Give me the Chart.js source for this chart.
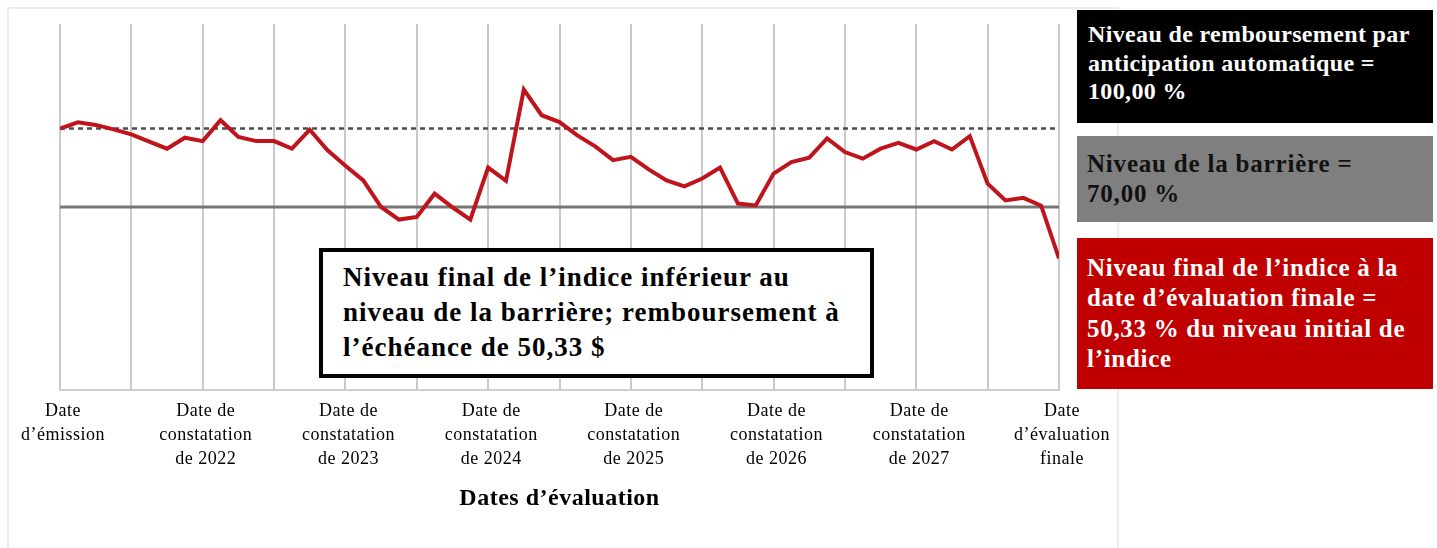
<!DOCTYPE html>
<html>
<head>
<meta charset="utf-8">
<script src="https://cdn.jsdelivr.net/npm/chart.js@4"></script>
<style>
  html, body { margin:0; padding:0; background:#fff; }
  #wrap { position:relative; width:1437px; height:548px; overflow:hidden; font-family:"Liberation Serif", serif; }
  #frame { position:absolute; left:7px; top:7px; width:1112px; height:600px; border:2px solid #ededed; box-sizing:border-box; }
  canvas { position:absolute; left:0; top:0; }
  .box { position:absolute; left:1077px; width:356px; box-sizing:border-box; font-weight:bold; white-space:nowrap; }
  #b1 { top:10px; height:113px; background:#000; color:#fff; padding:10px 0 0 11px; font-size:24px; letter-spacing:0.35px; line-height:28.5px; }
  #b2 { top:136px; height:86px; background:#7f7f7f; color:#111; padding:13px 0 0 10px; font-size:25px; letter-spacing:0.8px; line-height:30px; }
  #b3 { top:238px; height:151px; background:#c00000; color:#fff; padding:15px 0 0 10px; font-size:25px; letter-spacing:0.7px; line-height:30.3px; }
  #ann { position:absolute; left:319px; top:248px; width:555px; height:130px; box-sizing:border-box; border:4px solid #000; background:#fff; font-weight:bold; font-size:27px; letter-spacing:1px; line-height:35px; padding:8px 0 0 20px; color:#000; white-space:nowrap; }
</style>
</head>
<body>
<div id="wrap">
  <div id="frame"></div>
  <canvas id="c" width="1437" height="548"></canvas>
  <div class="box" id="b1">Niveau de remboursement par<br>anticipation automatique =<br>100,00 %</div>
  <div class="box" id="b2">Niveau de la barrière =<br>70,00 %</div>
  <div class="box" id="b3">Niveau final de l’indice à la<br>date d’évaluation finale =<br>50,33 % du niveau initial de<br>l’indice</div>
  <div id="ann">Niveau final de l’indice inférieur au<br>niveau de la barrière; remboursement à<br>l’échéance de 50,33 $</div>
</div>
<script>
const tickLabels = [
  ["Date", "d’émission"],
  ["Date de", "constatation", "de 2022"],
  ["Date de", "constatation", "de 2023"],
  ["Date de", "constatation", "de 2024"],
  ["Date de", "constatation", "de 2025"],
  ["Date de", "constatation", "de 2026"],
  ["Date de", "constatation", "de 2027"],
  ["Date", "d’évaluation", "finale"]
];
const indexLevel = [
  100, 102.4, 101.4, 99.7, 97.8, 95.0, 92.3, 96.5, 95.2, 103.2,
  96.8, 95.2, 95.2, 92.3, 99.6, 91.7, 85.8, 80.2, 70.0, 65.2,
  66.2, 75.1, 69.9, 65.2, 85.1, 80.0, 114.9, 105.1, 102.5, 97.4,
  93.2, 87.9, 89.2, 84.4, 80.2, 77.9, 80.9, 85.1, 71.3, 70.6,
  82.8, 87.2, 88.9, 96.2, 91.0, 88.5, 92.3, 94.5, 92.0, 95.2,
  92.0, 97.1, 78.9, 72.5, 73.5, 70.5, 50.33
];
const autocallLevel = [100, 100];
const barrierLevel = [70, 70];
const xTitle = "Dates d’évaluation";

const lastIdx = indexLevel.length - 1;
const pointsPerLabel = lastIdx / (tickLabels.length - 1);

const spacing = {
  id: 'spacing',
  beforeLayout(chart) { chart.ctx.letterSpacing = '0.5px'; },
  beforeDraw(chart) { chart.ctx.letterSpacing = '0.5px'; }
};

new Chart(document.getElementById('c'), {
  type: 'line',
  data: {
    datasets: [
      {
        data: indexLevel.map((v, i) => ({x: i, y: v})),
        borderColor: '#c0141c', borderWidth: 4, pointRadius: 0, tension: 0, order: 1
      },
      {
        data: autocallLevel.map((v, i) => ({x: i * lastIdx, y: v})),
        borderColor: '#4d4d4d', borderWidth: 2.5, borderDash: [5, 4], pointRadius: 0, order: 2
      },
      {
        data: barrierLevel.map((v, i) => ({x: i * lastIdx, y: v})),
        borderColor: '#767676', borderWidth: 3, pointRadius: 0, order: 3
      }
    ]
  },
  plugins: [spacing],
  options: {
    responsive: false,
    animation: false,
    layout: { padding: { left: 60, right: 378, top: 24, bottom: 0 } },
    plugins: { legend: { display: false }, tooltip: { enabled: false } },
    scales: {
      x: {
        type: 'linear', min: 0, max: lastIdx,
        afterFit: s => { s.height = 158; },
        grid: { color: '#c9c9c9', lineWidth: 2, drawTicks: false },
        border: { display: true, color: '#cfcfcf', width: 2 },
        ticks: {
          stepSize: pointsPerLabel / 2, autoSkip: false, maxRotation: 0, padding: 9,
          labelOffset: 3,
          color: '#000',
          font: { family: 'Liberation Serif', size: 18, lineHeight: 1.34 },
          callback: v => (v % pointsPerLabel === 0) ? tickLabels[v / pointsPerLabel] : ''
        },
        title: {
          display: true, text: xTitle, color: '#000',
          font: { family: 'Liberation Serif', size: 24, weight: 'bold' },
          padding: { top: 0, bottom: 35 }
        }
      },
      y: { display: false, min: 0, max: 140 }
    }
  }
});
</script>
</body>
</html>
